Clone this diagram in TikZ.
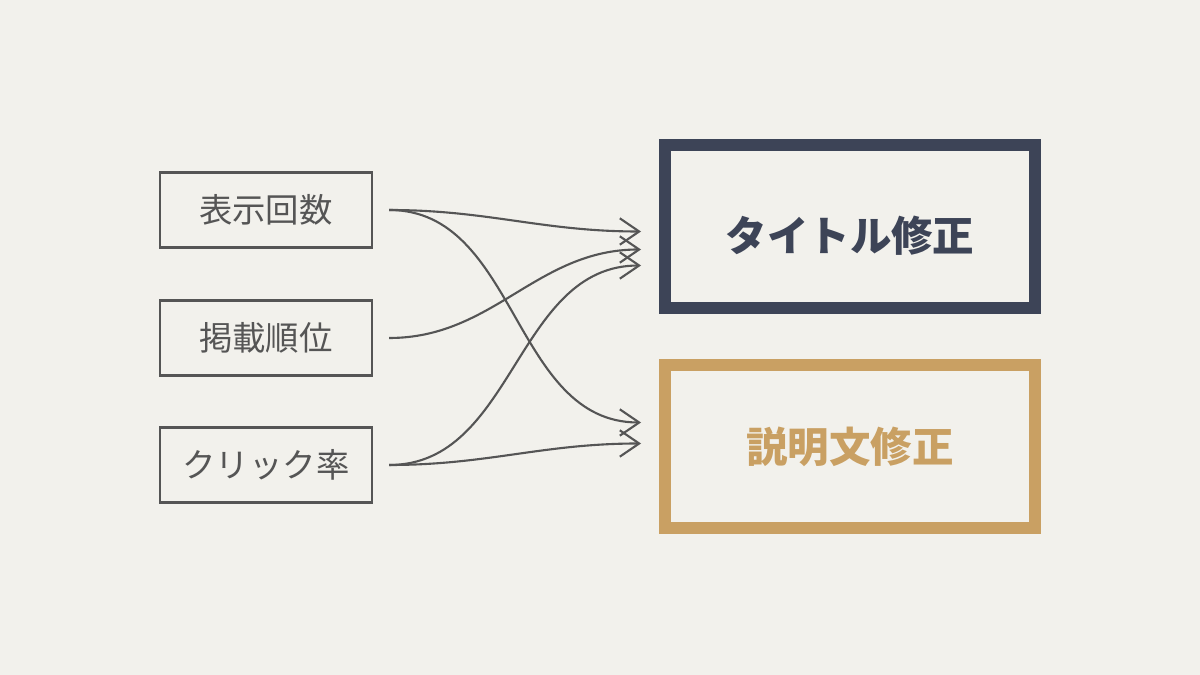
\documentclass[tikz,border=0pt]{standalone}
\usepackage{fontspec}
\usepackage{tikz}
\usetikzlibrary{arrows.meta}
\newfontfamily\jpfont{Noto Sans CJK JP}

\definecolor{paper}{HTML}{F2F1EC}
\definecolor{pencil}{HTML}{555555}
\definecolor{navy}{HTML}{3D4457}
\definecolor{gold}{HTML}{C9A063}

\tikzset{
    metric/.style={draw=pencil, line width=0.7pt, minimum width=2.12cm, minimum height=0.75cm,
        text=pencil, font=\jpfont\fontsize{9.5}{11}\selectfont},
    action/.style={line width=3.4pt, minimum width=3.7cm, minimum height=1.63cm,
        font=\jpfont\bfseries\fontsize{11.8}{14}\selectfont},
    link/.style={pencil, line width=0.6pt, -{Straight Barb[length=5.5pt,width=7.5pt]}, out=0, in=180}
}

\begin{document}
\begin{tikzpicture}
        \fill [paper] (0, 0) rectangle (12, 6.75);
        \useasboundingbox (0, 0) rectangle (12, 6.75);
        \node [metric] (views) at (2.66, 4.65) {表示回数};
        \node [metric] (rank) at (2.66, 3.37) {掲載順位};
        \node [metric] (ctr) at (2.66, 2.10) {クリック率};
        \node [action, draw=navy, text=navy, text height=15.5pt, text depth=1.4pt] (title) at (8.5, 4.485) {タイトル修正};
        \node [action, draw=gold, text=gold] (desc) at (8.5, 2.285) {説明文修正};
        \draw [link] ([xshift=0.16cm]views.east) to ([xshift=-0.18cm, yshift=-0.05cm]title.west);
        \draw [link] ([xshift=0.16cm]rank.east) to ([xshift=-0.18cm, yshift=-0.23cm]title.west);
        \draw [link] ([xshift=0.16cm]ctr.east) to ([xshift=-0.18cm, yshift=-0.39cm]title.west);
        \draw [link] ([xshift=0.16cm]views.east) to ([xshift=-0.18cm, yshift=0.24cm]desc.west);
        \draw [link] ([xshift=0.16cm]ctr.east) to ([xshift=-0.18cm, yshift=0.03cm]desc.west);
    \end{tikzpicture}
\end{document}
